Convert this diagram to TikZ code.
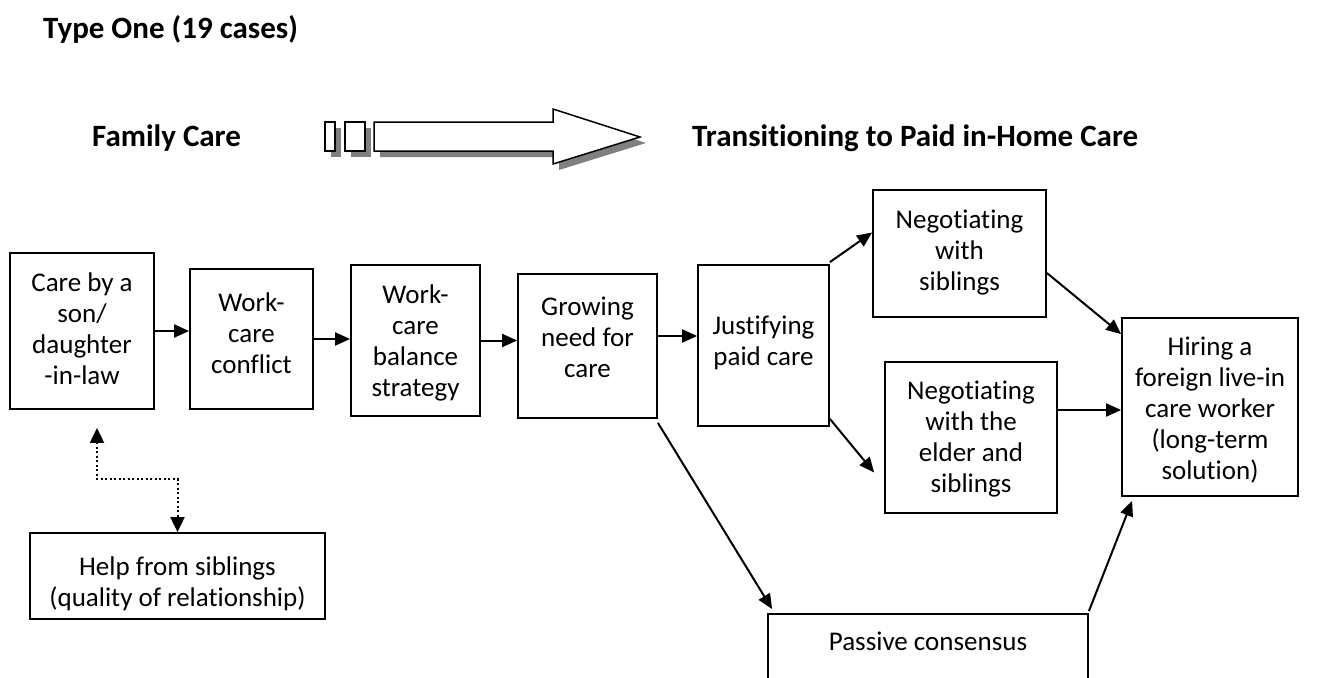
\documentclass[tikz,border=0pt]{standalone}
\usepackage{fontspec}
\setmainfont{Carlito}[Ligatures=NoCommon]
\usetikzlibrary{arrows.meta}
\begin{document}
\begin{tikzpicture}[x=1pt,y=-1pt,
  box/.style={draw, line width=1.8pt, inner sep=0pt},
  txt/.style={font=\fontsize{27}{31}\selectfont, align=center, inner sep=0pt},
  ttl/.style={font=\fontsize{31}{36}\selectfont\bfseries, anchor=base west, inner sep=0pt},
  conn/.style={line width=2pt, -{Triangle[length=15pt,width=13pt]}},
  dotconn/.style={line width=2pt, dash pattern=on 2pt off 2.5pt, {Triangle[length=15pt,width=14pt]}-{Triangle[length=15pt,width=14pt]}},
  shadowfill/.style={fill=black!50, draw=none},
  bigarrow/.style={draw, fill=white, line width=1.5pt, line join=miter}]
\useasboundingbox (0,0) rectangle (1319,677);
\clip (0,0) rectangle (1319,677);

% titles
\node[ttl] (typeone) at (43,39) {Type One (19 cases)};
\node[ttl] (family) at (92,146) {Family Care};
\node[ttl] (trans) at (692,146) {Transitioning to Paid in-Home Care};

% block arrow with shadow
\begin{scope}[shift={(6,6)}]
  \fill[shadowfill] (325,122) rectangle (335,151);
  \fill[shadowfill] (345,122) rectangle (365,151);
  \fill[shadowfill] (374,122) -- (553,122) -- (553,109) -- (640,137) -- (553,164) -- (553,151) -- (374,151) -- cycle;
\end{scope}
\draw[bigarrow] (325,122) rectangle (335,151);
\draw[bigarrow] (345,122) rectangle (365,151);
\draw[bigarrow] (374,122) -- (553,122) -- (553,109) -- (640,137) -- (553,164) -- (553,151) -- (374,151) -- cycle;

% boxes
\node[box, minimum width=144pt, minimum height=156pt] (b1) at (82,331) {};
\node[box, minimum width=123pt, minimum height=140pt] (b2) at (251.5,339) {};
\node[box, minimum width=129pt, minimum height=151pt] (b3) at (415.5,340.5) {};
\node[box, minimum width=139pt, minimum height=144pt] (b4) at (587.5,346) {};
\node[box, minimum width=131pt, minimum height=161pt] (b5) at (763.5,345.5) {};
\node[box, minimum width=173pt, minimum height=127pt] (b6) at (959.5,253.5) {};
\node[box, minimum width=172pt, minimum height=151pt] (b7) at (971,437.5) {};
\node[box, minimum width=176pt, minimum height=178pt] (b8) at (1210,407) {};
\node[box, minimum width=295pt, minimum height=86pt] (b9) at (177.5,576) {};
\node[box, minimum width=320pt, minimum height=106pt] (b10) at (928,667) {};

% texts
\node[txt] (t1) at (82,329) {Care by a\\son/\\daughter\\-in-law};
\node[txt] (t2) at (251.5,333) {Work-\\care\\conflict};
\node[txt] (t3) at (415.5,343) {Work-\\care\\balance\\strategy};
\node[txt] (t4) at (587.5,337) {Growing\\need for\\care};
\node[txt] (t5) at (763.5,343) {Justifying\\paid care};
\node[txt] (t6) at (959.5,253) {Negotiating\\with\\siblings};
\node[txt] (t7) at (971,439) {Negotiating\\with the\\elder and\\siblings};
\node[txt] (t8) at (1210,410) {Hiring a\\foreign live-in\\care worker\\(long-term\\solution)};
\node[txt] (t9) at (177.5,584) {Help from siblings\\(quality of relationship)};
\node[txt] (t10) at (928,641) {Passive consensus};

% connectors
\draw[conn] (b1.east) -- (b1.east -| b2.west);
\draw[conn] (b2.east) -- (b2.east -| b3.west);
\draw[conn] (b3.east) -- (b3.east -| b4.west);
\draw[conn] ([yshift=10pt]b4.east) -- ([yshift=10pt]b4.east -| b5.west);
\draw[conn] ([yshift=2pt]b5.north east) -- ([yshift=21pt]b6.west);
\draw[conn] ([yshift=8pt]b5.south east) -- ([xshift=-10pt,yshift=-35pt]b7.west);
\draw[conn] ([yshift=-19.5pt]b6.east) -- ([yshift=-17pt]b8.north west);
\draw[conn] ([yshift=27.5pt]b7.east) -- ([yshift=27.5pt]b7.east -| b8.west);
\draw[conn] ([yshift=-4pt]b4.south east) -- ([xshift=5pt,yshift=4pt]b10.north west);
\draw[conn] ([yshift=2pt]b10.north east) -- ([xshift=11pt,yshift=-4pt]b8.south west);
\draw[dotconn] ([xshift=15pt,yshift=-18pt]b1.south) |- ([yshift=53pt]b9.north) -- (b9.north);
\end{tikzpicture}
\end{document}
